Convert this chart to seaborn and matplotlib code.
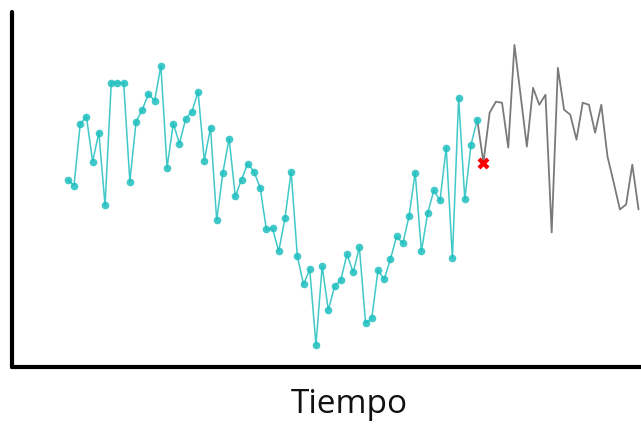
import numpy as np
import pandas as pd
import matplotlib
matplotlib.use("Agg")
import matplotlib.pyplot as plt
import seaborn as sns

observed = [188, 182, 244, 251, 206, 235, 162, 285, 285, 285, 186, 246, 258, 274,
            267, 302, 200, 244, 224, 249, 256, 276, 207, 240, 147, 195, 229, 171,
            188, 204, 196, 180, 138, 139, 116, 149, 196, 111, 83, 98, 22, 101,
            57, 81, 87, 113, 95, 120, 44, 49, 97, 88, 108, 131, 124, 151, 195,
            116, 154, 177, 167, 220, 109, 270, 168, 223, 248]

# continuation (gray), starts at the last observed point
future = [248, 205, 255, 266, 265, 220, 323, 272, 221, 280, 263, 273, 135, 300,
          258, 253, 228, 265, 263, 235, 263, 211, 185, 158, 163, 203, 158]

# the next value after the observed part
next_value = 205

t_obs = np.arange(len(observed))
t_fut = np.arange(len(observed) - 1, len(observed) - 1 + len(future))

obs = pd.DataFrame({"t": t_obs, "v": observed})
fut = pd.DataFrame({"t": t_fut, "v": future})
nxt = pd.DataFrame({"t": [len(observed)], "v": [next_value]})

sns.set_style("white")
fig = plt.figure(figsize=(6.41, 4.26), dpi=100)
ax = fig.add_axes([12 / 641, 59 / 426, 1 - 12 / 641, 355 / 426])

teal = "#1fbfbf"
sns.lineplot(data=fut, x="t", y="v", color="#7a7a7a", linewidth=1.3, ax=ax)
sns.lineplot(data=obs, x="t", y="v", color=teal, linewidth=1.1, alpha=0.85,
             marker="o", markersize=5.5, markeredgewidth=0,
             markerfacecolor=teal, ax=ax)
sns.scatterplot(data=nxt, x="t", y="v", color="red", marker="X", s=75,
                linewidth=0, ax=ax, zorder=5)

ax.set_xlim(-9, 92.4)
ax.set_ylim(0, 356)
ax.set_xticks([])
ax.set_yticks([])
ax.set_ylabel("")
for side in ["top", "right"]:
    ax.spines[side].set_visible(False)
for side in ["left", "bottom"]:
    ax.spines[side].set_color("black")
    ax.spines[side].set_linewidth(3)
    ax.spines[side].set_capstyle("round")

ax.set_xlabel("Tiempo", fontsize=24, family=["Open Sans", "DejaVu Sans"],
              color="#111111")
ax.xaxis.set_label_coords(0.537, -0.107)
ax.xaxis.label.set_va("center")

fig.savefig("out.png", dpi=100)
